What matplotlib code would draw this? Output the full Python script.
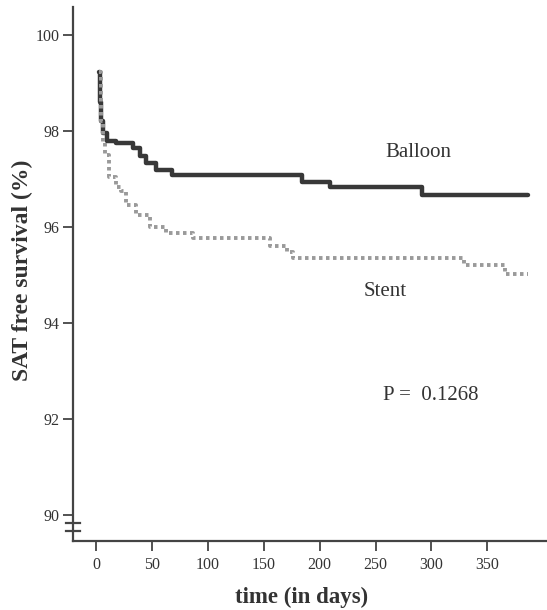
import matplotlib
matplotlib.use('Agg')
import matplotlib.pyplot as plt
import matplotlib.transforms as mtransforms

plt.rcParams['font.family'] = ['Liberation Serif', 'DejaVu Serif']

# Kaplan-Meier curves (days, SAT free survival %)
balloon_days = [3, 3.5, 4, 6, 10, 18, 33, 39, 45, 54, 68, 184, 209, 292, 386]
balloon_surv = [99.23, 98.6, 98.2, 97.95, 97.8, 97.74, 97.64, 97.47, 97.33,
                97.19, 97.08, 96.94, 96.83, 96.67, 96.67]

stent_days = [3, 4, 6, 8, 12, 18, 22, 27, 36, 48, 63, 87, 156, 171, 176,
              329, 366, 386]
stent_surv = [99.23, 98.2, 97.75, 97.5, 97.05, 96.83, 96.75, 96.45, 96.25,
              96.0, 95.87, 95.77, 95.6, 95.48, 95.35, 95.2, 95.02, 95.02]

x_ticks = [0, 50, 100, 150, 200, 250, 300, 350]
y_ticks = [90, 92, 94, 96, 98, 100]

text_col = '#333333'

fig = plt.figure(figsize=(5.47, 6.10), dpi=100)
ax = fig.add_axes([0.1335, 0.1131, 0.8665, 0.8754])

ax.step(balloon_days, balloon_surv, where='post', color='#383838',
        linewidth=3.2, solid_capstyle='round')
ax.step(stent_days, stent_surv, where='post', color='#9a9a9a',
        linewidth=2.8, linestyle=(0, (0.9, 0.9)), dash_capstyle='butt')

ax.set_xlim(-20.6, 403.4)
ax.set_ylim(89.46, 100.58)
ax.set_xticks(x_ticks)
ax.set_yticks(y_ticks)

for side in ['top', 'right']:
    ax.spines[side].set_visible(False)
for side in ['left', 'bottom']:
    ax.spines[side].set_color('#444444')
    ax.spines[side].set_linewidth(1.6)

ax.tick_params(axis='both', direction='out', length=7.5, width=1.3,
               color='#444444', labelcolor=text_col, labelsize=11.5)
ax.tick_params(axis='x', pad=4)
ax.tick_params(axis='y', pad=2)

ax.set_ylabel('SAT free survival (%)', fontsize=17, fontweight='bold',
              color=text_col)
ax.yaxis.set_label_coords(-0.084, 0.507)
ax.set_xlabel('time (in days)', fontsize=16.5, fontweight='bold',
              color=text_col)
ax.xaxis.set_label_coords(0.483, -0.085)

# axis break marks on the y axis
trans = mtransforms.blended_transform_factory(ax.transAxes, ax.transData)
for yb in [89.83, 89.67]:
    ax.plot([-0.015, 0.015], [yb, yb], transform=trans, color='#444444',
            linewidth=1.6, clip_on=False)

ax.text(288, 97.56, 'Balloon', fontsize=15, color=text_col,
        ha='center', va='center')
ax.text(258.5, 94.65, 'Stent', fontsize=15, color=text_col,
        ha='center', va='center')
ax.text(299, 92.5, 'P =  0.1268', fontsize=15, color=text_col,
        ha='center', va='center')

fig.savefig('out.png', dpi=100)
